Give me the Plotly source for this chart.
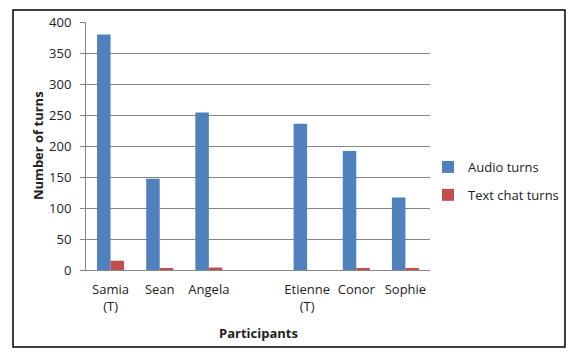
import plotly.graph_objects as go

categories = ["Samia<br>(T)", "Sean", "Angela", " ", "Etienne<br>(T)", "Conor", "Sophie"]
audio_turns = [380, 147, 254, None, 236, 192, 117]
text_turns = [15, 2, 4, None, 0, 2, 2]
y_ticks = [0, 50, 100, 150, 200, 250, 300, 350, 400]

FONT = "'Open Sans', Lato, sans-serif"

fig = go.Figure()
fig.add_trace(go.Bar(x=categories, y=audio_turns, name="Audio turns", legendgroup="a",
                     marker=dict(color="#4F81BD", line=dict(width=0))))
fig.add_trace(go.Bar(x=categories, y=text_turns, name="Text chat turns", legendgroup="b",
                     marker=dict(color="#C0504D", line=dict(width=0))))

# page has an 8px body margin; figure coordinates = page coordinates - 8
OFF = 8
W, H = 580 - 2 * OFF, 358 - 2 * OFF
L, T = 86 - OFF, 22 - OFF
R = W - (430 - OFF)
B = H - (270 - OFF)
pw, ph = W - L - R, H - T - B

def px_x(p):
    return (p - OFF - L) / pw

def px_y(p):
    return (H - B - (p - OFF)) / ph

fig.update_layout(
    template="none",
    width=W, height=H, autosize=False,
    margin=dict(l=L, r=R, t=T, b=B, pad=0, autoexpand=False),
    paper_bgcolor="white", plot_bgcolor="white",
    font=dict(family=FONT, size=13, color="#222222"),
    barmode="group", bargap=0.45, bargroupgap=0,
    showlegend=True,
    legend=dict(x=px_x(428), y=px_y(181), xanchor="left", yanchor="middle",
                font=dict(size=13, color="#222222"), traceorder="grouped",
                tracegroupgap=8, itemwidth=30, bgcolor="rgba(0,0,0,0)", borderwidth=0),
    xaxis=dict(type="category", categoryorder="array", categoryarray=categories,
               automargin=False,
               showgrid=False, showline=True, linecolor="#868686", linewidth=1,
               ticks="", tickfont=dict(size=13), zeroline=False,
               ticklabelstandoff=7),
    yaxis=dict(range=[0, 400], tickvals=y_ticks, automargin=False,
               showgrid=True, gridcolor="#868686",
               gridwidth=1, showline=True, linecolor="#868686", linewidth=1,
               ticks="outside", ticklen=5, tickcolor="#868686",
               tickfont=dict(size=13), zeroline=False, ticklabelstandoff=6),
    shapes=[dict(type="rect", xref="paper", yref="paper",
                 x0=px_x(13), x1=px_x(565), y0=px_y(347), y1=px_y(10),
                 line=dict(color="black", width=1.5), fillcolor="rgba(0,0,0,0)")],
    annotations=[
        dict(text="<b>Participants</b>", xref="paper", yref="paper",
             x=px_x(258), y=px_y(333), xanchor="center", yanchor="middle",
             showarrow=False, font=dict(size=13)),
        dict(text="<b>Number of turns</b>", xref="paper", yref="paper",
             x=px_x(38), y=px_y(146), xanchor="center", yanchor="middle",
             showarrow=False, textangle=-90, font=dict(size=13)),
    ],
)

fig.write_html("out.html")
